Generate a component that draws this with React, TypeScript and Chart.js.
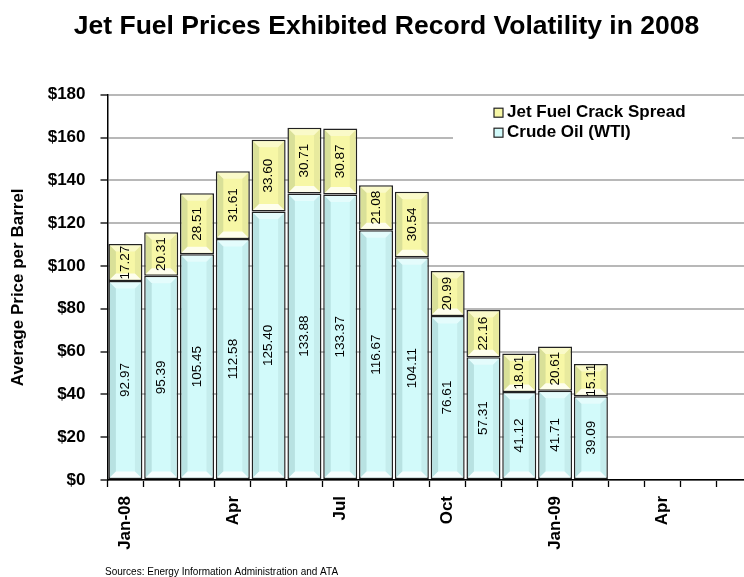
import React, { useEffect, useRef } from 'react';
import { Chart, registerables } from 'chart.js';

Chart.register(...registerables);

// ---- Data ----
const categories = [
  'Jan-08', 'Feb-08', 'Mar-08', 'Apr-08', 'May-08', 'Jun-08', 'Jul-08', 'Aug-08', 'Sep-08',
  'Oct-08', 'Nov-08', 'Dec-08', 'Jan-09', 'Feb-09', 'Mar-09', 'Apr-09', 'May-09', 'Jun-09',
];
const tickLabels = ['Jan-08', '', '', 'Apr', '', '', 'Jul', '', '', 'Oct', '', '', 'Jan-09', '', '', 'Apr', '', ''];
const crudeOil = [92.97, 95.39, 105.45, 112.58, 125.4, 133.88, 133.37, 116.67, 104.11, 76.61, 57.31, 41.12, 41.71, 39.09, null, null, null, null];
const jetCrack = [17.27, 20.31, 28.51, 31.61, 33.6, 30.71, 30.87, 21.08, 30.54, 20.99, 22.16, 18.01, 20.61, 15.11, null, null, null, null];
const seriesNames = ['Crude Oil (WTI)', 'Jet Fuel Crack Spread'];
const yMin = 0;
const yMax = 180;
const yStep = 20;
const titleText = 'Jet Fuel Prices Exhibited Record Volatility in 2008';
const yTitleText = 'Average Price per Barrel';
const sourceText = 'Sources: Energy Information Administration and ATA';

const FONT = "'Liberation Sans', Arial, Helvetica, sans-serif";
const CRUDE_COLOR = '#d2fafa';
const JET_COLOR = '#f7f7a6';
const BORDER_COLOR = '#222222';

const bevelAndLabels = {
  id: 'bevelAndLabels',
  afterDatasetsDraw(chart: any) {
    const ctx = chart.ctx;
    chart.data.datasets.forEach((ds: any, di: number) => {
      const meta = chart.getDatasetMeta(di);
      meta.data.forEach((el: any, i: number) => {
        const v = ds.data[i];
        if (v === null || v === undefined) return;
        const p = el.getProps(['x', 'y', 'base', 'width'], true);
        if (!isFinite(p.x) || !isFinite(p.y)) return;
        const bw = 1.5;
        const l = p.x - p.width / 2 + bw;
        const r = p.x + p.width / 2 - bw;
        const t = Math.min(p.y, p.base) + bw;
        const btm = Math.max(p.y, p.base) - bw;
        const h = btm - t;
        const b = Math.min(6, h / 3, (r - l) / 3);
        ctx.save();
        // top face
        ctx.fillStyle = 'rgba(255,255,255,0.4)';
        ctx.beginPath();
        ctx.moveTo(l, t); ctx.lineTo(r, t); ctx.lineTo(r - b, t + b); ctx.lineTo(l + b, t + b); ctx.closePath();
        ctx.fill();
        // left face
        ctx.fillStyle = 'rgba(0,60,60,0.12)';
        ctx.beginPath();
        ctx.moveTo(l, t); ctx.lineTo(l + b, t + b); ctx.lineTo(l + b, btm - b); ctx.lineTo(l, btm); ctx.closePath();
        ctx.fill();
        // right face
        ctx.fillStyle = 'rgba(0,40,40,0.06)';
        ctx.beginPath();
        ctx.moveTo(r, t); ctx.lineTo(r - b, t + b); ctx.lineTo(r - b, btm - b); ctx.lineTo(r, btm); ctx.closePath();
        ctx.fill();
        // bottom face
        ctx.fillStyle = 'rgba(255,255,255,0.8)';
        ctx.beginPath();
        ctx.moveTo(l, btm); ctx.lineTo(r, btm); ctx.lineTo(r - b, btm - b); ctx.lineTo(l + b, btm - b); ctx.closePath();
        ctx.fill();
        ctx.restore();

        // value label
        ctx.save();
        ctx.translate(p.x, (t + btm) / 2);
        ctx.rotate(-Math.PI / 2);
        ctx.font = `13.5px ${FONT}`;
        ctx.fillStyle = '#000';
        ctx.textAlign = 'center';
        ctx.textBaseline = 'middle';
        ctx.fillText(Number(v).toFixed(2), 0, 0);
        ctx.restore();
      });
    });
  },
};

const customLegend = {
  id: 'customLegend',
  beforeDatasetsDraw(chart: any) {
    const ctx = chart.ctx;
    ctx.save();
    ctx.fillStyle = '#ffffff';
    ctx.fillRect(453, 99, 279, 52);
    const items = [
      { label: seriesNames[1], color: JET_COLOR, y: 112.7 },
      { label: seriesNames[0], color: CRUDE_COLOR, y: 132.7 },
    ];
    items.forEach((it) => {
      ctx.fillStyle = it.color;
      ctx.fillRect(494, it.y - 4.5, 9, 9);
      ctx.strokeStyle = BORDER_COLOR;
      ctx.lineWidth = 1.2;
      ctx.strokeRect(494, it.y - 4.5, 9, 9);
      ctx.fillStyle = '#000';
      ctx.font = `bold 17px ${FONT}`;
      ctx.textAlign = 'left';
      ctx.textBaseline = 'middle';
      ctx.fillText(it.label, 507, it.y);
    });
    ctx.restore();
  },
};

const sourcePlugin = {
  id: 'sourceNote',
  afterDraw(chart: any) {
    const ctx = chart.ctx;
    ctx.save();
    ctx.font = `10px ${FONT}`;
    ctx.fillStyle = '#000';
    ctx.textAlign = 'left';
    ctx.textBaseline = 'middle';
    ctx.fillText(sourceText, 105, 572);
    ctx.restore();
  },
};

export default function App() {
  const ref = useRef<HTMLCanvasElement | null>(null);

  useEffect(() => {
    if (!ref.current) return;
    const chart = new Chart(ref.current, {
      type: 'bar',
      data: {
        labels: categories,
        datasets: [
          {
            label: seriesNames[0],
            data: crudeOil,
            backgroundColor: CRUDE_COLOR,
            borderColor: BORDER_COLOR,
            borderWidth: 1.5,
            borderSkipped: false,
            barPercentage: 0.95,
            categoryPercentage: 1,
          },
          {
            label: seriesNames[1],
            data: jetCrack,
            backgroundColor: JET_COLOR,
            borderColor: BORDER_COLOR,
            borderWidth: 1.5,
            borderSkipped: false,
            barPercentage: 0.95,
            categoryPercentage: 1,
          },
        ],
      } as any,
      options: {
        responsive: false,
        animation: false,
        devicePixelRatio: 1,
        layout: { padding: { top: 0, left: 0, right: 0, bottom: 0 } },
        plugins: {
          legend: { display: false },
          tooltip: { enabled: false },
          title: {
            display: true,
            text: titleText,
            color: '#000',
            font: { family: FONT, size: 26.5, weight: 'bold' },
            padding: { top: 10.5, bottom: 52.4 },
          },
        },
        scales: {
          x: {
            stacked: true,
            grid: {
              display: true,
              drawOnChartArea: false,
              drawTicks: true,
              tickLength: 7,
              tickColor: '#000',
              tickWidth: 1.3,
              offset: true,
            },
            border: { display: true, color: '#000', width: 1.5 },
            ticks: {
              autoSkip: false,
              minRotation: 90,
              maxRotation: 90,
              padding: 9,
              color: '#000',
              font: { family: FONT, size: 17, weight: 'bold' },
              callback: (_v: any, i: number) => tickLabels[i],
            },
            afterFit: (scale: any) => {
              scale.height = 97;
            },
          },
          y: {
            stacked: true,
            min: yMin,
            max: yMax,
            grid: {
              color: '#b8b8b8',
              lineWidth: 2,
              drawTicks: true,
              tickLength: 7,
              tickColor: '#000',
              tickWidth: 1.3,
            },
            border: { display: true, color: '#000', width: 1.5 },
            ticks: {
              stepSize: yStep,
              padding: 15,
              color: '#000',
              font: { family: FONT, size: 17, weight: 'bold' },
              callback: (v: any) => '$' + v,
            },
            title: {
              display: true,
              text: yTitleText,
              color: '#000',
              font: { family: FONT, size: 17, weight: 'bold' },
              padding: { top: 8, bottom: 0 },
            },
            afterFit: (scale: any) => {
              scale.width = 107.5;
            },
          },
          yRight: {
            type: 'linear',
            position: 'right',
            display: true,
            grid: { display: false, drawTicks: false },
            ticks: { display: false },
            border: { display: false },
            afterFit: (scale: any) => {
              scale.width = 21;
            },
          },
        },
      } as any,
      plugins: [customLegend, bevelAndLabels, sourcePlugin],
    });
    return () => chart.destroy();
  }, []);

  return (
    <div
      style={{
        position: 'fixed',
        left: 0,
        top: 0,
        width: 744,
        height: 577,
        overflow: 'hidden',
        background: '#fff',
      }}
    >
      <canvas ref={ref} width={773} height={577} style={{ display: 'block', width: 773, height: 577 }} />
    </div>
  );
}
